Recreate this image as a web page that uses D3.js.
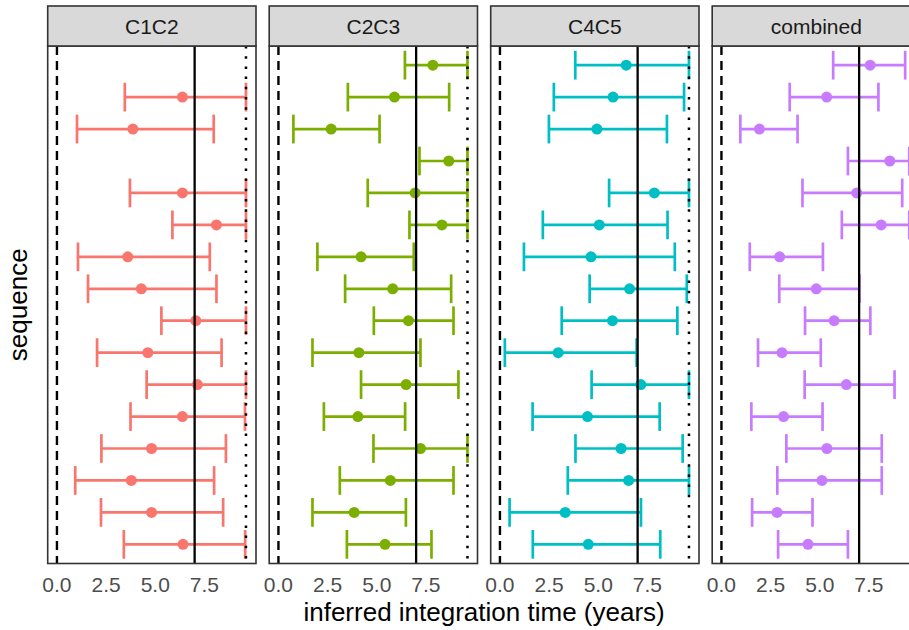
<!DOCTYPE html>
<html>
<head>
<meta charset="utf-8">
<script src="https://cdn.jsdelivr.net/npm/d3@7"></script>
<style>
  html, body { margin: 0; padding: 0; background: #fff; }
  svg text { font-family: "Liberation Sans", Arial, Helvetica, sans-serif; }
</style>
</head>
<body>
<svg id="chart" width="909" height="630"></svg>
<script>
// ---------- data ----------
const panels = ["C1C2", "C2C3", "C4C5", "combined"];
const colors = ["#F8766D", "#7CAE00", "#00BFC4", "#C77CFF"];
const sequences = ["s01","s02","s03","s04","s05","s06","s07","s08","s09","s10","s11","s12","s13","s14","s15","s16"];

// estimates (point), lower and upper bounds, one array per panel; null = missing
const estC1C2 = [null, 6.38, 3.86, null, 6.38, 8.11, 3.60, 4.29, 7.06, 4.62, 7.14, 6.38, 4.81, 3.78, 4.81, 6.41];
const lowC1C2 = [null, 3.45, 1.02, null, 3.71, 5.87, 1.07, 1.58, 5.31, 2.04, 4.56, 3.74, 2.26, 0.93, 2.24, 3.40];
const uppC1C2 = [null, 9.61, 7.97, null, 9.61, 9.61, 7.77, 8.11, 9.61, 8.37, 9.61, 9.56, 8.59, 7.99, 8.45, 9.57];

const estC2C3 = [7.85, 5.90, 2.68, 8.66, 6.95, 8.31, 4.20, 5.81, 6.61, 4.09, 6.49, 4.04, 7.22, 5.69, 3.85, 5.42];
const lowC2C3 = [6.43, 3.53, 0.76, 7.17, 4.54, 6.66, 1.98, 3.39, 4.85, 1.73, 4.20, 2.31, 4.83, 3.12, 1.73, 3.48];
const uppC2C3 = [9.61, 8.68, 5.14, 9.61, 9.61, 9.61, 6.88, 8.78, 8.90, 7.22, 9.15, 6.44, 9.61, 8.90, 6.48, 7.78];

const estC4C5 = [6.42, 5.75, 4.93, null, 7.85, 5.05, 4.63, 6.59, 5.72, 2.96, 7.16, 4.45, 6.16, 6.54, 3.32, 4.49];
const lowC4C5 = [3.83, 2.74, 2.49, null, 5.55, 2.18, 1.22, 4.56, 3.14, 0.25, 4.66, 1.66, 3.84, 3.45, 0.49, 1.67];
const uppC4C5 = [9.61, 9.36, 8.49, null, 9.61, 8.52, 8.89, 9.50, 9.02, 6.95, 9.61, 8.12, 9.29, 9.61, 7.17, 8.15];

const estComb = [7.56, 5.35, 1.93, 8.56, 6.88, 8.12, 2.96, 4.82, 5.73, 3.08, 6.35, 3.16, 5.36, 5.11, 2.83, 4.40];
const lowComb = [5.68, 3.47, 0.96, 6.43, 4.12, 6.12, 1.44, 2.94, 4.25, 1.86, 4.23, 1.52, 3.30, 2.84, 1.56, 2.88];
const uppComb = [9.34, 7.98, 3.87, 9.55, 9.19, 9.55, 5.16, 7.02, 7.57, 5.05, 8.80, 5.14, 8.15, 8.15, 4.63, 6.43];

const xTicks = [0, 2.5, 5.0, 7.5];
const refLines = [
  { value: 0, dash: "9,6", width: 2.4 },
  { value: 7, dash: null, width: 2.3 },
  { value: 9.61, dash: "2.5,7.7", width: 2.5 }
];
const xLabel = "inferred integration time (years)";
const yLabel = "sequence";

const seriesByPanel = [
  { est: estC1C2, low: lowC1C2, upp: uppC1C2 },
  { est: estC2C3, low: lowC2C3, upp: uppC2C3 },
  { est: estC4C5, low: lowC4C5, upp: uppC4C5 },
  { est: estComb, low: lowComb, upp: uppComb }
];

// ---------- layout ----------
const svg = d3.select("#chart");
const panelLeft0 = 47.7, panelStep = 221.5, panelW = 208.3;
const stripTop = 6, stripBottom = 46, panelBottom = 563.5;
const border = "#333333";

const x = d3.scaleLinear().domain([-0.47, 10.12]).range([0, panelW]);
const y = d3.scalePoint().domain(sequences).range([stripBottom, panelBottom]).padding(0.6);
const capHalf = y.step() * 0.9 / 2;

panels.forEach((name, pi) => {
  const left = panelLeft0 + pi * panelStep;
  const g = svg.append("g").attr("transform", `translate(${left},0)`);
  const s = seriesByPanel[pi];
  const rows = sequences.map((seq, i) => ({ seq, est: s.est[i], low: s.low[i], upp: s.upp[i] }))
    .filter(d => d.est !== null);

  g.append("rect").attr("x", 0).attr("y", stripBottom)
    .attr("width", panelW).attr("height", panelBottom - stripBottom)
    .attr("fill", "#fff");

  const col = colors[pi];
  const eb = g.append("g").attr("stroke", col).attr("stroke-width", 2.7).attr("fill", "none");
  eb.selectAll("line.h").data(rows).join("line").attr("class", "h")
    .attr("x1", d => x(d.low)).attr("x2", d => x(d.upp))
    .attr("y1", d => y(d.seq)).attr("y2", d => y(d.seq));
  eb.selectAll("line.l").data(rows).join("line").attr("class", "l")
    .attr("x1", d => x(d.low)).attr("x2", d => x(d.low))
    .attr("y1", d => y(d.seq) - capHalf).attr("y2", d => y(d.seq) + capHalf);
  eb.selectAll("line.u").data(rows).join("line").attr("class", "u")
    .attr("x1", d => x(d.upp)).attr("x2", d => x(d.upp))
    .attr("y1", d => y(d.seq) - capHalf).attr("y2", d => y(d.seq) + capHalf);

  g.append("g").selectAll("circle").data(rows).join("circle")
    .attr("cx", d => x(d.est)).attr("cy", d => y(d.seq)).attr("r", 5.5)
    .attr("fill", col);

  refLines.forEach(r => {
    g.append("line")
      .attr("x1", x(r.value)).attr("x2", x(r.value))
      .attr("y1", stripBottom).attr("y2", panelBottom)
      .attr("stroke", "#000").attr("stroke-width", r.width)
      .attr("stroke-dasharray", r.dash);
  });

  g.append("rect").attr("x", 0).attr("y", stripBottom)
    .attr("width", panelW).attr("height", panelBottom - stripBottom)
    .attr("fill", "none").attr("stroke", border).attr("stroke-width", 1.6);

  g.append("rect").attr("x", 0).attr("y", stripTop)
    .attr("width", panelW).attr("height", stripBottom - stripTop)
    .attr("fill", "#D9D9D9").attr("stroke", border).attr("stroke-width", 1.6);
  g.append("text").attr("x", panelW / 2).attr("y", 34.3)
    .attr("text-anchor", "middle").attr("font-size", 21).attr("fill", "#1A1A1A")
    .text(name);

  g.selectAll("text.tick").data(xTicks).join("text").attr("class", "tick")
    .attr("x", d => x(d)).attr("y", 591.5)
    .attr("text-anchor", "middle").attr("font-size", 21).attr("fill", "#4D4D4D")
    .text(d => d3.format(".1f")(d));
});

const totalRight = panelLeft0 + 3 * panelStep + panelW;
svg.append("text").attr("x", (panelLeft0 + totalRight) / 2).attr("y", 620.5)
  .attr("text-anchor", "middle").attr("font-size", 26).attr("fill", "#000")
  .text(xLabel);
svg.append("text")
  .attr("transform", `translate(26.5,${(stripBottom + panelBottom) / 2}) rotate(-90)`)
  .attr("text-anchor", "middle").attr("font-size", 26).attr("fill", "#000")
  .text(yLabel);
</script>
</body>
</html>
